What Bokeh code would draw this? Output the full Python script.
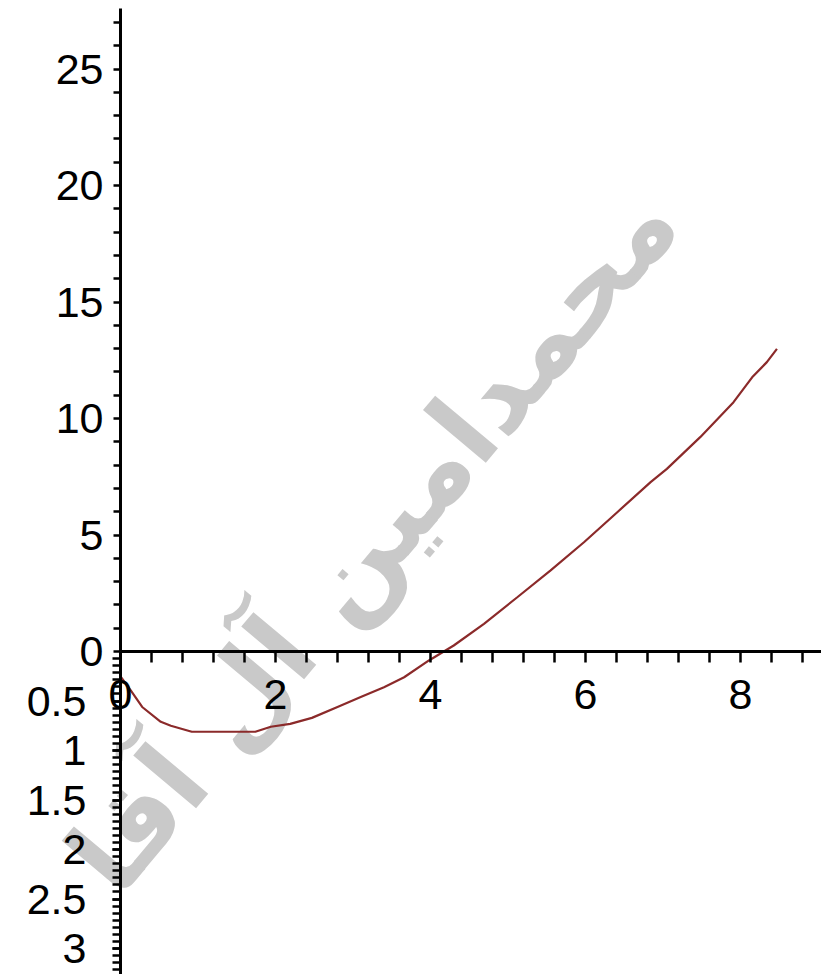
import numpy as np
from bokeh.plotting import figure
from bokeh.models import LinearAxis, FixedTicker, Range1d, Label, CustomJSTickFormatter
from bokeh.embed import file_html
from bokeh.resources import INLINE

# Sampled curve (x, f(x))
curve_x = [0.0, 0.13, 0.28, 0.52, 0.65, 0.92, 1.29, 1.74, 1.94, 2.19, 2.47, 2.80,
           3.10, 3.40, 3.66, 3.98, 4.30, 4.69, 5.12, 5.55, 5.98, 6.41, 6.84,
           7.05, 7.48, 7.91, 8.15, 8.34, 8.47]
curve_y = [-0.25, -0.39, -0.56, -0.71, -0.75, -0.81, -0.81, -0.81, -0.76, -0.73, -0.67, -0.56,
           -0.46, -0.36, -0.26, -0.09, 0.26, 1.19, 2.33, 3.48, 4.69, 5.98, 7.27,
           7.84, 9.20, 10.70, 11.77, 12.42, 12.99]

# Axis tick values
x_labels = [0, 2, 4, 6, 8]
y_pos_labels = [0, 5, 10, 15, 20, 25]
y_neg_labels = [0.5, 1, 1.5, 2, 2.5, 3]

# The negative half of the y axis is drawn stretched
NEG_STRETCH = 99.0 / 23.3


def to_axis(v):
    return v if v >= 0 else v * NEG_STRETCH


p = figure(width=821, height=974,
           x_range=Range1d(-1.548, 9.045), y_range=Range1d(-13.86, 27.94),
           x_axis_type=None, y_axis_type=None,
           toolbar_location=None, output_backend="svg",
           min_border=0, outline_line_color=None)
p.xgrid.visible = False
p.ygrid.visible = False
p.background_fill_color = "white"
p.border_fill_color = "white"

# watermark
p.add_layout(Label(x=3.25, y=4.8, text="محمدامین آل آقا", angle=np.deg2rad(50),
                   text_align="center", text_baseline="middle",
                   text_color="#c9c9c9", text_font="DejaVu Sans",
                   text_font_style="bold", text_font_size="108px", level="underlay"))

p.line([float(x) for x in curve_x], [to_axis(v) for v in curve_y],
       line_color="#8b2a2a", line_width=2.2)


def style_axis(ax, tick_len, standoff):
    ax.axis_line_width = 3
    ax.axis_line_color = "black"
    ax.major_tick_out = tick_len
    ax.major_tick_in = 0
    ax.minor_tick_out = tick_len
    ax.minor_tick_in = 0
    ax.major_tick_line_width = 2.5
    ax.minor_tick_line_width = 2.5
    ax.major_tick_line_color = "black"
    ax.minor_tick_line_color = "black"
    ax.major_label_text_font = "Liberation Sans"
    ax.major_label_text_font_size = "43px"
    ax.major_label_text_color = "black"
    ax.major_label_standoff = standoff


# x axis through the origin
x_minor = [round(0.4 * i, 2) for i in range(1, 23) if round(0.4 * i, 2) not in x_labels]
xaxis = LinearAxis(fixed_location=0, bounds=(0, 9.1),
                   ticker=FixedTicker(ticks=x_labels, minor_ticks=x_minor))
style_axis(xaxis, 11, 17)
p.add_layout(xaxis, "below")

# upper half of the y axis
y_up_minor = [float(v) for v in range(1, 28) if v not in y_pos_labels]
yaxis_up = LinearAxis(fixed_location=0, bounds=(0, 27.6),
                      ticker=FixedTicker(ticks=y_pos_labels, minor_ticks=y_up_minor))
style_axis(yaxis_up, 7, 10)
p.add_layout(yaxis_up, "left")

# lower (stretched) half of the y axis, labelled by magnitude
y_dn_ticks = [to_axis(-v) for v in y_neg_labels]
y_dn_minor = [to_axis(-i / 14.0) for i in range(1, 46)]
yaxis_dn = LinearAxis(fixed_location=0, bounds=(-13.86, 0),
                      ticker=FixedTicker(ticks=y_dn_ticks, minor_ticks=y_dn_minor))
yaxis_dn.formatter = CustomJSTickFormatter(args=dict(k=NEG_STRETCH), code="""
    return String(Math.round(-tick / k * 100) / 100);
""")
style_axis(yaxis_dn, 8, 26)
p.add_layout(yaxis_dn, "left")

open("out.html", "w").write(file_html(p, INLINE))
